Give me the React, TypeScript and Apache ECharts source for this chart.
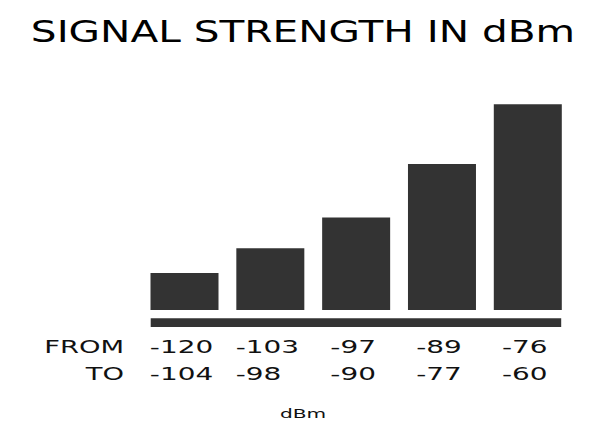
import React, { useEffect, useRef } from "react";
import * as echarts from "echarts";

// ---- data ----
const FROM_VALUES = ["-120", "-103", "-97", "-89", "-76"];
const TO_VALUES = ["-104", "-98", "-90", "-77", "-60"];
const CATEGORIES = FROM_VALUES.map((f, i) => `${f} … ${TO_VALUES[i]}`);
const BAR_LEVELS = [18, 30, 45, 71, 100];
const TITLE = "SIGNAL STRENGTH IN dBm";
const ROW_LABELS = ["FROM", "TO"];
const UNIT_LABEL = "dBm";

const FONT = "DejaVu Sans";
const BAR_COLOR = "#333333";
const TEXT_COLOR = "#111111";

export default function App() {
  const ref = useRef<HTMLDivElement>(null);

  useEffect(() => {
    if (!ref.current) return;
    const chart = echarts.init(ref.current, undefined, { renderer: "svg" });

    const option: any = {
      animation: false,
      backgroundColor: "#ffffff",
      grid: { left: 184.5, right: 72.2, top: 104.3, bottom: 127 },
      xAxis: {
        type: "category",
        data: CATEGORIES,
        boundaryGap: false,
        axisLine: { show: false },
        axisTick: { show: false },
        axisLabel: { show: false },
        splitLine: { show: false },
      },
      yAxis: {
        type: "value",
        min: 0,
        max: 100,
        show: false,
        splitLine: { show: false },
      },
      graphic: [
        {
          type: "text",
          x: 303,
          y: 31,
          scaleX: 1.31,
          style: {
            text: TITLE,
            fontSize: 31,
            fontFamily: FONT,
            fill: "#000000",
            align: "center",
            verticalAlign: "middle",
            textAlign: "center",
            textVerticalAlign: "middle",
          },
        },
        {
          type: "rect",
          shape: { x: 150.7, y: 318.3, width: 410.5, height: 8.7 },
          style: { fill: BAR_COLOR },
        },
        {
          type: "text",
          x: 124,
          y: 347,
          scaleX: 1.52,
          style: {
            text: ROW_LABELS[0],
            fontSize: 18,
            fontFamily: FONT,
            fill: TEXT_COLOR,
            align: "right",
            verticalAlign: "middle",
            textAlign: "right",
            textVerticalAlign: "middle",
          },
        },
        {
          type: "text",
          x: 124,
          y: 374,
          scaleX: 1.52,
          style: {
            text: ROW_LABELS[1],
            fontSize: 18,
            fontFamily: FONT,
            fill: TEXT_COLOR,
            align: "right",
            verticalAlign: "middle",
            textAlign: "right",
            textVerticalAlign: "middle",
          },
        },
        {
          type: "text",
          x: 303,
          y: 413,
          scaleX: 1.55,
          style: {
            text: UNIT_LABEL,
            fontSize: 13,
            fontFamily: FONT,
            fill: TEXT_COLOR,
            align: "center",
            verticalAlign: "middle",
            textAlign: "center",
            textVerticalAlign: "middle",
          },
        },
      ],
      series: [
        {
          type: "bar",
          data: BAR_LEVELS,
          barWidth: 68,
          clip: false,
          itemStyle: { color: BAR_COLOR },
          silent: true,
        },
        {
          type: "custom",
          clip: false,
          silent: true,
          data: CATEGORIES.map((_, i) => [i, 0]),
          encode: { x: 0, y: 1 },
          renderItem: (params: any, api: any) => {
            const idx = api.value(0);
            const pt = api.coord([idx, 0]);
            return {
              type: "text",
              x: pt[0] - 3,
              y: pt[1] + 23.5,
              scaleX: 1.55,
              style: {
                text: `{a|${FROM_VALUES[idx]}}\n{a|${TO_VALUES[idx]}}`,
                align: "center",
                verticalAlign: "top",
                textAlign: "center",
                textVerticalAlign: "top",
                fontSize: 18,
                fontFamily: FONT,
                fill: TEXT_COLOR,
                rich: {
                  a: {
                    fontSize: 18,
                    fontFamily: FONT,
                    lineHeight: 27,
                    align: "left",
                    fill: TEXT_COLOR,
                    color: TEXT_COLOR,
                  },
                },
              },
            };
          },
        },
      ],
    };

    chart.setOption(option);
    return () => chart.dispose();
  }, []);

  return (
    <div
      ref={ref}
      style={{ position: "absolute", left: 0, top: 0, width: 600, height: 437 }}
    />
  );
}
